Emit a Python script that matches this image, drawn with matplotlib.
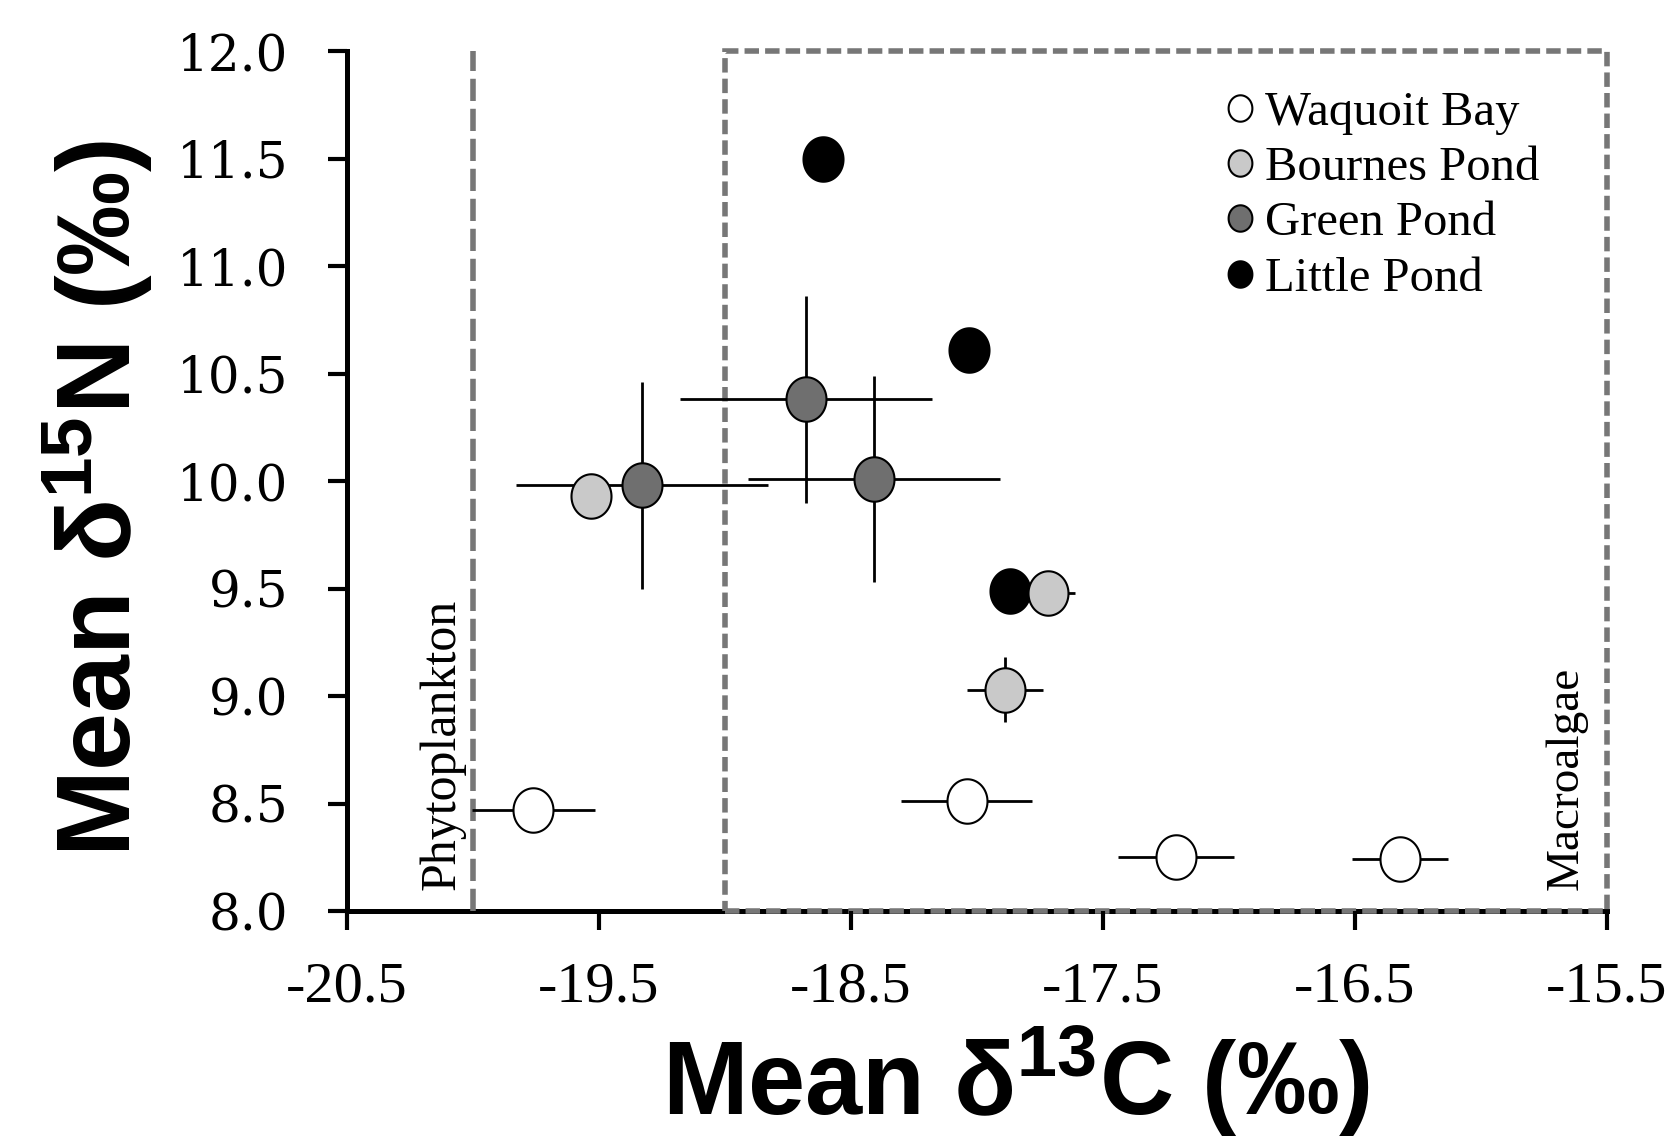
import matplotlib
matplotlib.use("Agg")
import matplotlib.pyplot as plt
import numpy as np
from matplotlib.path import Path
from matplotlib.patches import Rectangle
from matplotlib.lines import Line2D

# ---------------- data ----------------
series_names = ["Waquoit Bay", "Bournes Pond", "Green Pond", "Little Pond"]

waquoit_c = [-19.76, -18.04, -17.21, -16.32]
waquoit_n = [8.47, 8.51, 8.25, 8.24]
waquoit_cerr = [0.245, 0.26, 0.23, 0.19]
waquoit_nerr = [0.10, 0.10, 0.06, 0.06]

bournes_c = [-19.53, -17.72, -17.89]
bournes_n = [9.93, 9.48, 9.03]
bournes_cerr = [0.04, 0.11, 0.15]
bournes_nerr = [0.05, 0.10, 0.15]

green_c = [-19.33, -18.68, -18.41]
green_n = [9.98, 10.38, 10.01]
green_cerr = [0.50, 0.50, 0.50]
green_nerr = [0.48, 0.48, 0.48]

little_c = [-18.61, -18.03, -17.87]
little_n = [11.50, 10.61, 9.49]

x_ticks = [-20.5, -19.5, -18.5, -17.5, -16.5, -15.5]
x_ticklabels = ["-20.5", "-19.5", "-18.5", "-17.5", "-16.5", "-15.5"]
y_ticks = [8.0, 8.5, 9.0, 9.5, 10.0, 10.5, 11.0, 11.5, 12.0]
y_ticklabels = ["8.0", "8.5", "9.0", "9.5", "10.0", "10.5", "11.0", "11.5", "12.0"]

phyto_line_c = -20.0
macro_box_c = (-19.0, -15.5)
macro_box_n = (8.0, 12.0)

# ---------------- style ----------------
plt.rcParams["font.family"] = ["Liberation Serif", "DejaVu Serif"]
plt.rcParams["mathtext.fontset"] = "custom"
plt.rcParams["mathtext.rm"] = "Liberation Sans:bold"
plt.rcParams["mathtext.bf"] = "Liberation Sans:bold"
plt.rcParams["mathtext.it"] = "Liberation Sans:bold"

colors = {"Waquoit Bay": "#ffffff", "Bournes Pond": "#c9c9c9",
          "Green Pond": "#6f6f6f", "Little Pond": "#000000"}
grey = "#777777"

fig = plt.figure(figsize=(16.69, 11.42), dpi=100)
ax = fig.add_axes([347 / 1669, 1 - 911 / 1142, 1260 / 1669, 860 / 1142])
ax.set_xlim(-20.5, -15.5)
ax.set_ylim(8.0, 12.0)

# slightly tall elliptical marker as in the reference
t = np.linspace(0, 2 * np.pi, 120)
ell = Path(np.column_stack([0.9 * np.cos(t), np.sin(t)]), closed=True)
msize = 32

# error bars
ax.errorbar(green_c, green_n, xerr=green_cerr, yerr=green_nerr, fmt="none",
            ecolor="black", elinewidth=2.0, capsize=0, zorder=2)
ax.errorbar(waquoit_c, waquoit_n, xerr=waquoit_cerr, yerr=waquoit_nerr, fmt="none",
            ecolor="black", elinewidth=2.0, capsize=0, zorder=2)
ax.errorbar(bournes_c, bournes_n, xerr=bournes_cerr, yerr=bournes_nerr, fmt="none",
            ecolor="black", elinewidth=2.0, capsize=0, zorder=2)

# markers
ax.plot(little_c, little_n, ls="none", marker=ell, ms=msize,
        mfc=colors["Little Pond"], mec="black", mew=1.5, zorder=3)
ax.plot(waquoit_c, waquoit_n, ls="none", marker=ell, ms=msize,
        mfc=colors["Waquoit Bay"], mec="black", mew=1.5, zorder=3)
ax.plot(bournes_c, bournes_n, ls="none", marker=ell, ms=msize,
        mfc=colors["Bournes Pond"], mec="black", mew=1.5, zorder=4)
ax.plot(green_c, green_n, ls="none", marker=ell, ms=msize,
        mfc=colors["Green Pond"], mec="black", mew=1.5, zorder=5)

# phytoplankton line and macroalgae box
ax.plot([phyto_line_c, phyto_line_c], list(macro_box_n), color=grey, lw=4,
        ls=(0, (4.0, 1.4)), zorder=1.5, clip_on=False)
ax.add_patch(Rectangle((macro_box_c[0], macro_box_n[0]),
                       macro_box_c[1] - macro_box_c[0], macro_box_n[1] - macro_box_n[0],
                       fill=False, edgecolor=grey, lw=4, ls=(0, (2.6, 1.1)),
                       zorder=1.5, clip_on=False))

ax.text(-20.12, 8.10, "Phytoplankton", rotation=90, ha="center", va="bottom",
        fontsize=36, family="Liberation Serif")
ax.text(-15.66, 8.10, "Macroalgae", rotation=90, ha="center", va="bottom",
        fontsize=34, family="Liberation Serif")

# spines / ticks
ax.spines["top"].set_visible(False)
ax.spines["right"].set_visible(False)
for s in ("left", "bottom"):
    ax.spines[s].set_linewidth(3.6)
    ax.spines[s].set_zorder(1)
ax.set_xticks(x_ticks)
ax.set_xticklabels(x_ticklabels)
ax.set_yticks(y_ticks)
ax.set_yticklabels(y_ticklabels)
ax.tick_params(axis="both", direction="out", length=14, width=3)
ax.tick_params(axis="y", pad=28, labelsize=36)
ax.tick_params(axis="x", pad=22, labelsize=42)
for lab in ax.get_xticklabels():
    lab.set_family("Liberation Serif")
for lab in ax.get_yticklabels():
    lab.set_family("DejaVu Serif")

# axis labels
ax.set_xlabel("Mean \u03b4$^{\\mathbf{13}}$C (\u2030)", fontsize=74, fontweight="bold",
              family="Liberation Sans")
ax.set_ylabel("Mean \u03b4$^{\\mathbf{15}}$N (\u2030)", fontsize=75, fontweight="bold",
              family="Liberation Sans")
ax.xaxis.set_label_coords(0.531, -0.131)
ax.yaxis.set_label_coords(-0.152, 0.48)

# legend
handles = [Line2D([], [], ls="none", marker=ell, ms=19, mfc=colors[n], mec="black", mew=1.5)
           for n in series_names]
ax.legend(handles, series_names, loc="upper left", bbox_to_anchor=(0.699, 0.9535),
          frameon=False, handlelength=0.5, handletextpad=0.27,
          labelspacing=0.23, borderpad=0, borderaxespad=0,
          prop={"family": "Liberation Serif", "size": 35})

fig.savefig("out.png", dpi=100)
